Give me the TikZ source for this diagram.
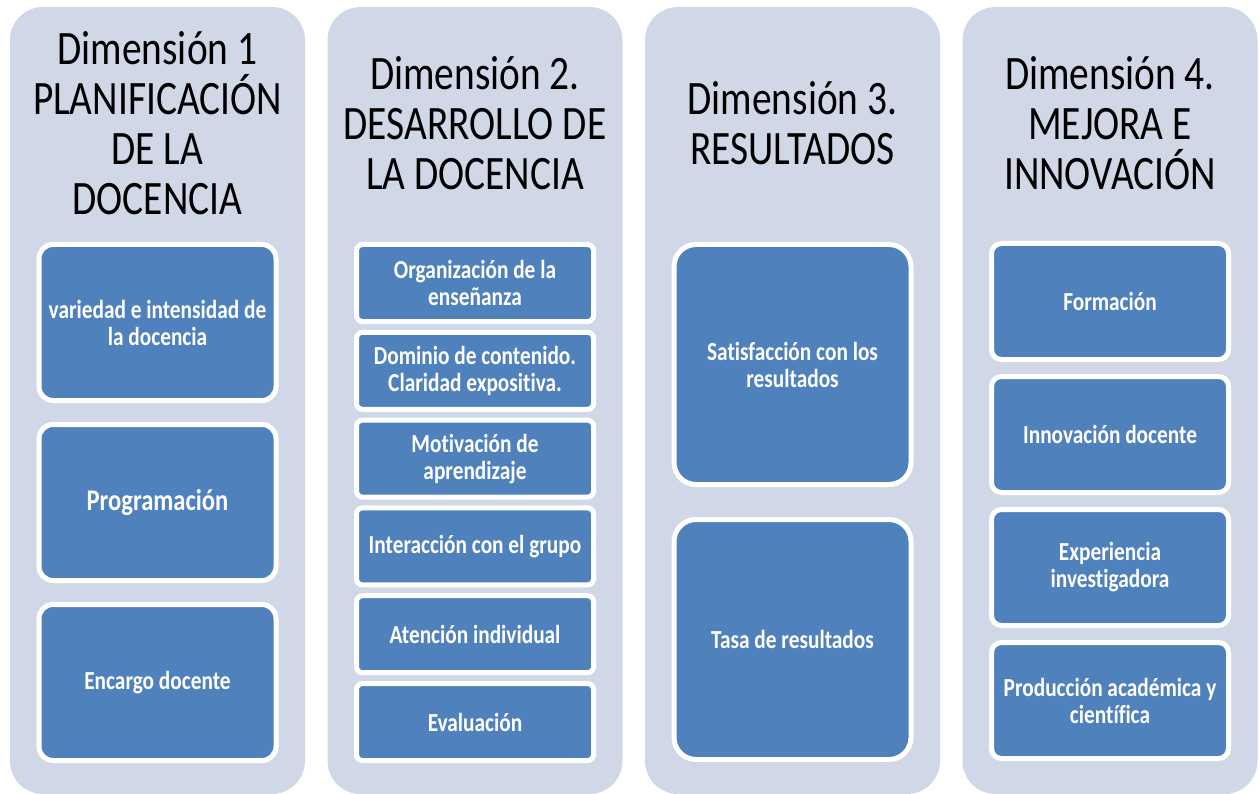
\documentclass[tikz,border=0pt]{standalone}
\usepackage{fontspec}
\setmainfont{Carlito}[FakeStretch=0.82, Ligatures=NoCommon]
\usepackage{tikz}
\usetikzlibrary{positioning}

\definecolor{panelgray}{RGB}{208,216,232}
\definecolor{itemblue}{RGB}{79,129,189}

\begin{document}
\begin{tikzpicture}[
    dimbox/.style={fill=panelgray, rounded corners=33pt, minimum width=295pt,
                   minimum height=787pt, inner sep=0pt},
    dimtitle/.style={align=center, inner sep=0pt, font=\fontsize{48}{50}\selectfont},
    itembox/.style={draw=white, line width=5pt, fill=itemblue, text=white, align=center,
                    minimum width=237pt, inner sep=2pt, font=\bfseries\fontsize{26}{27}\selectfont},
    itemA/.style={itembox, minimum height=156pt, rounded corners=14pt},
    itemB/.style={itembox, minimum height=77pt, rounded corners=6pt},
    itemC/.style={itembox, minimum height=240pt, rounded corners=22pt},
    itemD/.style={itembox, minimum height=116pt, rounded corners=10pt}]
    \useasboundingbox (0,0) rectangle (1260pt,-794pt);

    % columns
    \node[dimbox] (d1) at (157.5pt,-400.5pt) {};
    \node[dimbox] (d2) at (475pt,-400.5pt) {};
    \node[dimbox] (d3) at (792.5pt,-400.5pt) {};
    \node[dimbox] (d4) at (1110pt,-400.5pt) {};

    \node[dimtitle] (t1) at (157.5pt,-123pt) {Dimensión 1\\PLANIFICACIÓN\\DE LA\\DOCENCIA};
    \node[dimtitle] (t2) at (475pt,-123pt) {Dimensión 2.\\DESARROLLO DE\\LA DOCENCIA};
    \node[dimtitle] (t3) at (792.5pt,-123pt) {Dimensión 3.\\RESULTADOS};
    \node[dimtitle] (t4) at (1110pt,-123pt) {Dimensión 4.\\MEJORA E\\INNOVACIÓN};

    % dimension 1
    \node[itemA] (a1) at (157.5pt,-322.5pt) {variedad e intensidad de\\la docencia};
    \node[itemA, below=19pt of a1, font=\bfseries\fontsize{30}{31}\selectfont] (a2) {Programación};
    \node[itemA, below=19pt of a2] (a3) {Encargo docente};

    % dimension 2
    \node[itemB] (b1) at (475pt,-283pt) {Organización de la\\enseñanza};
    \node[itemB, below=5.8pt of b1] (b2) {Dominio de contenido.\\Claridad expositiva.};
    \node[itemB, below=5.8pt of b2] (b3) {Motivación de\\aprendizaje};
    \node[itemB, below=5.8pt of b3] (b4) {Interacción con el grupo};
    \node[itemB, below=5.8pt of b4] (b5) {Atención individual};
    \node[itemB, below=5.8pt of b5] (b6) {Evaluación};

    % dimension 3
    \node[itemC] (c1) at (792.5pt,-364.5pt) {Satisfacción con los\\resultados};
    \node[itemC, below=30pt of c1] (c2) {Tasa de resultados};

    % dimension 4
    \node[itemD] (e1) at (1110pt,-301.5pt) {Formación};
    \node[itemD, below=12pt of e1] (e2) {Innovación docente};
    \node[itemD, below=12pt of e2] (e3) {Experiencia\\investigadora};
    \node[itemD, below=12pt of e3] (e4) {Producción académica y\\científica};
\end{tikzpicture}
\end{document}
